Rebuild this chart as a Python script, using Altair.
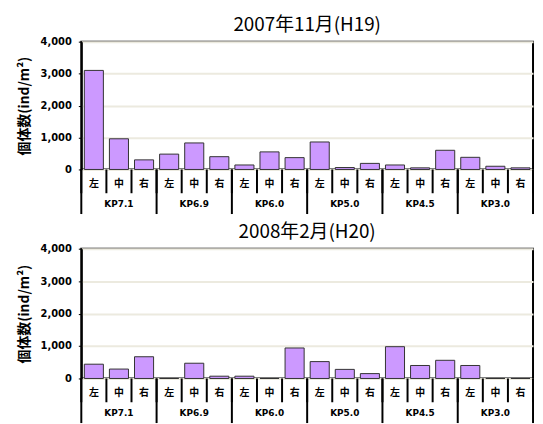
import altair as alt
import pandas as pd

sites = ["KP7.1", "KP6.9", "KP6.0", "KP5.0", "KP4.5", "KP3.0"]
positions = ["左", "中", "右"]
nov2007 = [3100, 960, 300, 480, 830, 400, 140, 550, 370, 860, 60, 190, 140, 50, 600, 380, 100, 50]
feb2008 = [440, 290, 670, 0, 470, 70, 70, 0, 940, 520, 280, 150, 980, 400, 560, 400, 0, 0]
titles = ["2007年11月(H19)", "2008年2月(H20)"]
y_ticks = [0, 1000, 2000, 3000, 4000]
y_title = "個体数(ind/m²)"

FONT = "Noto Sans CJK JP"
LATIN = "DejaVu Sans"


def panel(values, title, w, h):
    n = len(sites) * len(positions)
    df = pd.DataFrame({"i": list(range(n)), "pos": positions * len(sites), "v": values})
    gdf = pd.DataFrame({"g": list(range(len(sites))), "site": sites})
    bdf = pd.DataFrame({"b": list(range(n + 1))})
    xs = alt.Scale(domain=[0, n], nice=False, zero=False)
    ys = alt.Scale(domain=[0, 4000], nice=False)

    bars = alt.Chart(df).transform_calculate(
        x0="datum.i + 0.12", x1="datum.i + 0.88"
    ).mark_rect(color="#CC99FF", stroke="#333333", strokeWidth=1).encode(
        x=alt.X("x0:Q", scale=xs, axis=None),
        x2="x1:Q",
        y=alt.Y("v:Q", scale=ys, axis=alt.Axis(
            values=y_ticks, format=",d", title=y_title, grid=True,
            gridColor="#ECEADF", gridWidth=2,
            domainColor="black", domainWidth=2,
            tickColor="black", tickSize=3, tickWidth=1,
            labelFont=LATIN, labelFontWeight="bold", labelFontSize=10, labelPadding=7,
            labelColor="black",
            titleFont=FONT, titleFontWeight="bold", titleFontSize=14, titleColor="black",
            titlePadding=9,
        )),
        y2=alt.datum(0),
    )
    sub = alt.Chart(df).transform_calculate(xc="datum.i + 0.5").mark_text(
        font=FONT, fontWeight="bold", fontSize=10, baseline="middle", color="black"
    ).encode(
        x=alt.X("xc:Q", scale=xs, axis=None),
        y=alt.value(h + 15),
        text="pos:N",
    )
    grp = alt.Chart(gdf).transform_calculate(xc="datum.g * 3 + 1.5").mark_text(
        font=LATIN, fontWeight="bold", fontSize=9, baseline="middle", color="black"
    ).encode(
        x=alt.X("xc:Q", scale=xs, axis=None),
        y=alt.value(h + 35),
        text="site:N",
    )
    r_short = alt.Chart(bdf).mark_rule(color="black", strokeWidth=2).encode(
        x=alt.X("b:Q", scale=xs, axis=None),
        y=alt.value(h),
        y2=alt.value(h + 24),
    )
    r_long = alt.Chart(bdf).transform_filter("datum.b % 3 == 0").mark_rule(
        color="black", strokeWidth=2
    ).encode(
        x=alt.X("b:Q", scale=xs, axis=None),
        y=alt.value(h),
        y2=alt.value(h + 45),
    )
    return alt.layer(bars, r_short, r_long, sub, grp).properties(
        width=w, height=h,
        title=alt.TitleParams(title, font=FONT, fontSize=19, fontWeight="normal",
                              color="black", offset=2, anchor="middle"),
    )


p1 = panel(nov2007, titles[0], 456, 129)
p2 = panel(feb2008, titles[1], 456, 131)

chart = alt.vconcat(p1, p2, spacing=6).configure_view(
    stroke="black", strokeWidth=2
).properties(padding={"left": 8, "top": 5, "right": 0, "bottom": 0}, background="white")

chart.save("out.html", embed_options={"renderer": "svg", "actions": False})
